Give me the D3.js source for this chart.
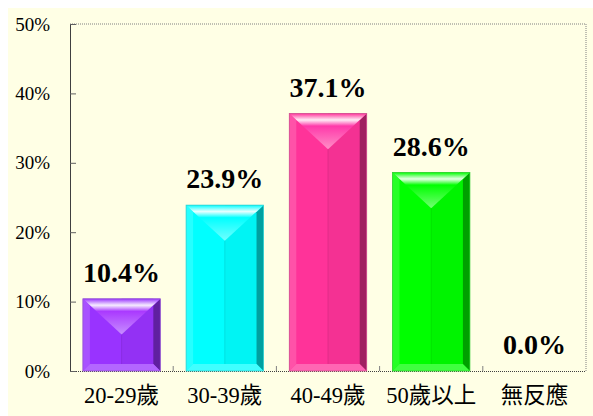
<!DOCTYPE html>
<html>
<head>
<meta charset="utf-8">
<script src="https://cdn.jsdelivr.net/npm/d3@7"></script>
<style>
  body { margin: 0; background: #fff; }
  svg { display: block; }
</style>
</head>
<body>
<svg id="chart" width="593" height="416"></svg>
<script>
const categories = ["20-29歲", "30-39歲", "40-49歲", "50歲以上", "無反應"];
const values = [10.4, 23.9, 37.1, 28.6, 0.0];
const barColors = ["#9933ff", "#00ffff", "#ff3399", "#00ff00", "#999999"];
const yTicks = [0, 10, 20, 30, 40, 50];

const svg = d3.select("#chart");
const serif = "'Liberation Serif', 'Times New Roman', 'Noto Sans CJK TC', serif";

// cream background panel
svg.append("rect")
  .attr("x", 8).attr("y", 8)
  .attr("width", 585).attr("height", 408)
  .attr("fill", "#ffffe5");

const plotL = 70, plotR = 586, plotT = 24, plotB = 371;

const x = d3.scaleBand().domain(categories).range([plotL, plotR]).paddingInner(0.25).paddingOuter(0.125);
const y = d3.scaleLinear().domain([0, 50]).range([plotB, plotT]);

// frame: dotted top, right, bottom
const frame = svg.append("g").attr("fill", "none").attr("stroke", "#808080").attr("stroke-dasharray", "1,1");
frame.append("line").attr("x1", plotL).attr("x2", plotR).attr("y1", plotT).attr("y2", plotT);
frame.append("line").attr("x1", plotR).attr("x2", plotR).attr("y1", plotT).attr("y2", plotB);
frame.append("line").attr("x1", plotL).attr("x2", plotR).attr("y1", plotB + 0.5).attr("y2", plotB + 0.5).attr("stroke", "#404040");

// category separator ticks
const step = (plotR - plotL) / categories.length;
svg.append("g").selectAll("line")
  .data(d3.range(1, categories.length))
  .join("line")
  .attr("x1", d => plotL + d * step).attr("x2", d => plotL + d * step)
  .attr("y1", plotB).attr("y2", plotB - 5)
  .attr("stroke", "#808080");

// y axis with inward ticks
const yAxis = svg.append("g")
  .attr("transform", `translate(${plotL},0)`)
  .call(d3.axisLeft(y).tickValues(yTicks).tickFormat(d => d + "%").tickSizeInner(-6).tickSizeOuter(0).tickPadding(20));
yAxis.select(".domain").attr("stroke", "#404040");
yAxis.selectAll(".tick line").attr("stroke", "#606060");
yAxis.selectAll("text")
  .attr("font-family", serif).attr("font-size", 19).attr("fill", "#000");

// bevelled bars
const defs = svg.append("defs");
const bars = svg.append("g");

values.forEach((v, i) => {
  if (v <= 0) return;
  const c = d3.color(barColors[i]);
  const x0 = x(categories[i]), x1 = x0 + x.bandwidth();
  const y0 = y(v), y1 = y(0);
  const w = x1 - x0, h = y1 - y0, cx = (x0 + x1) / 2;
  const b = 7;
  const apex = y0 + Math.min(w / 2 - 3, h - b);

  const gid = "top" + i;
  const g = defs.append("linearGradient").attr("id", gid)
    .attr("x1", 0).attr("y1", 0).attr("x2", 0).attr("y2", 1);
  g.append("stop").attr("offset", "0%").attr("stop-color", c.formatHex());
  g.append("stop").attr("offset", "18%").attr("stop-color", "#ffffff").attr("stop-opacity", 0.9);
  g.append("stop").attr("offset", "35%").attr("stop-color", c.brighter(0.3).formatHex());
  g.append("stop").attr("offset", "100%").attr("stop-color", d3.interpolateRgb(c, "#fff")(0.45));

  const grp = bars.append("g");
  // base
  grp.append("rect").attr("x", x0).attr("y", y0).attr("width", w).attr("height", h)
    .attr("fill", c.formatHex());
  // right half slightly darker
  grp.append("rect").attr("x", cx).attr("y", y0).attr("width", w / 2 - b).attr("height", h - b)
    .attr("fill", c.darker(0.12).formatHex());
  // left bevel
  grp.append("polygon")
    .attr("points", [[x0, y0], [x0 + b, y0 + b], [x0 + b, y1 - b], [x0, y1]].join(" "))
    .attr("fill", d3.interpolateRgb(c, "#fff")(0.15));
  // right bevel (dark)
  grp.append("polygon")
    .attr("points", [[x1, y0], [x1 - b, y0 + b], [x1 - b, y1 - b], [x1, y1]].join(" "))
    .attr("fill", c.darker(1.3).formatHex());
  // bottom bevel
  grp.append("polygon")
    .attr("points", [[x0, y1], [x0 + b, y1 - b], [x1 - b, y1 - b], [x1, y1]].join(" "))
    .attr("fill", d3.interpolateRgb(c, "#fff")(0.25));
  // top triangle
  grp.append("polygon")
    .attr("points", [[x0, y0], [x1, y0], [cx, apex]].join(" "))
    .attr("fill", `url(#${gid})`);
  // centre ridge
  grp.append("line").attr("x1", cx).attr("x2", cx).attr("y1", apex).attr("y2", y1 - b)
    .attr("stroke", c.darker(0.4).formatHex()).attr("stroke-width", 0.8);
  // thin outline
  grp.append("rect").attr("x", x0).attr("y", y0).attr("width", w).attr("height", h)
    .attr("fill", "none").attr("stroke", d3.interpolateRgb(c, "#888")(0.4)).attr("stroke-width", 0.8);
});

// value labels
svg.append("g").selectAll("text")
  .data(values)
  .join("text")
  .attr("x", (d, i) => x(categories[i]) + x.bandwidth() / 2)
  .attr("y", d => y(d) - 17)
  .attr("text-anchor", "middle")
  .attr("font-family", serif).attr("font-weight", "bold").attr("font-size", 28)
  .text(d => d.toFixed(1) + "%");

// category labels
svg.append("g").selectAll("text")
  .data(categories)
  .join("text")
  .attr("x", d => x(d) + x.bandwidth() / 2)
  .attr("y", 403)
  .attr("text-anchor", "middle")
  .attr("font-family", serif).attr("font-size", 22.5)
  .text(d => d);
</script>
</body>
</html>
